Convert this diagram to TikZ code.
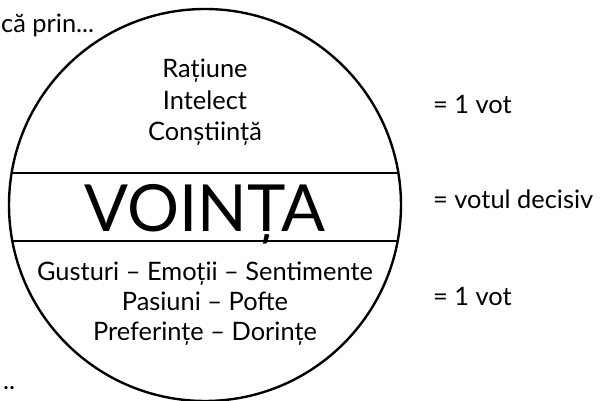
\documentclass[tikz,border=0pt]{standalone}
\usepackage{fontspec}
\setmainfont{Lato}
\begin{document}
\begin{tikzpicture}[x=0.5pt, y=-0.5pt, line width=1.2pt,
  every node/.style={inner sep=0pt, anchor=base, font=\fontsize{12.7}{15}\selectfont},
  vote/.style={anchor=base west},
  band/.style={line width=1pt}]
\useasboundingbox (0,0) rectangle (602,401);
% the soul
\coordinate (centre) at (205,205);
\draw (centre) circle [radius=196];
\coordinate (bandTL) at (11.6,173);
\coordinate (bandTR) at (398.4,173);
\coordinate (bandBL) at (12.3,241);
\coordinate (bandBR) at (397.7,241);
\draw[band] (bandTL) -- (bandTR);
\draw[band] (bandBL) -- (bandBR);
% upper part
\node (ratiune) at (205,78) {Rațiune};
\node (intelect) at (205,110) {Intelect};
\node (constiinta) at (205,141) {Conștiință};
% will
\node[font=\fontsize{32.5}{38}\selectfont] (vointa) at (205,232) {VOINȚA};
% lower part
\node (gusturi) at (205,281) {Gusturi – Emoții – Sentimente};
\node (pasiuni) at (205,311) {Pasiuni – Pofte};
\node (preferinte) at (205,341) {Preferințe – Dorințe};
% votes
\node[vote] (votsus) at (432,114) {= 1 vot};
\node[vote] (votdecisiv) at (432,209) {= votul decisiv};
\node[vote] (votjos) at (432,306) {= 1 vot};
% cut text
\node[anchor=base west] (prin) at (0,33) {că prin...};
\node[anchor=base west] (puncte) at (2,390) {..};
\end{tikzpicture}
\end{document}
